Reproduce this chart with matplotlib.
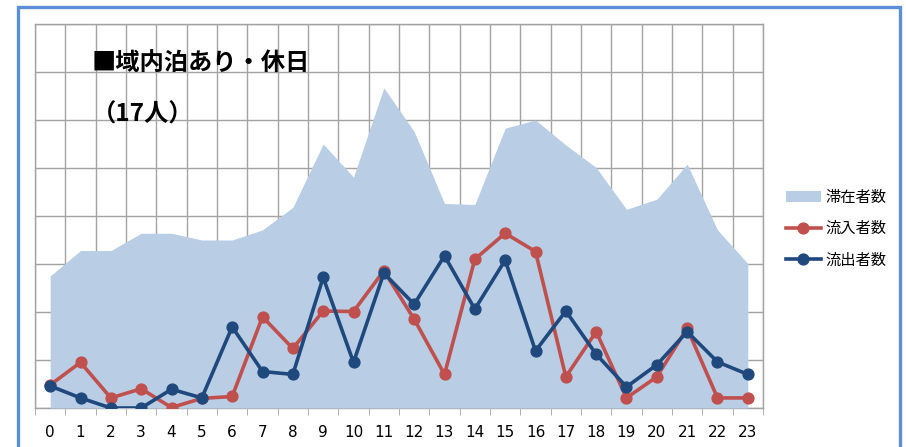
import matplotlib.pyplot as plt
import numpy as np
from matplotlib.patches import Rectangle

hours = list(range(24))
hour_labels = [str(h) for h in hours]

# 滞在者数 (area), 流入者数, 流出者数 (grid units)
stay = [2.75, 3.28, 3.28, 3.64, 3.64, 3.50, 3.50, 3.71, 4.18, 5.50, 4.81, 6.67,
        5.76, 4.26, 4.24, 5.83, 6.00, 5.48, 5.01, 4.14, 4.35, 5.08, 3.71, 3.01]
inflow = [0.48, 0.95, 0.21, 0.40, 0.01, 0.20, 0.24, 1.90, 1.24, 2.02, 2.01, 2.86,
          1.85, 0.70, 3.10, 3.64, 3.26, 0.65, 1.59, 0.21, 0.65, 1.66, 0.21, 0.21]
outflow = [0.46, 0.21, 0.00, 0.00, 0.39, 0.21, 1.69, 0.76, 0.70, 2.72, 0.95, 2.81,
           2.16, 3.17, 2.06, 3.08, 1.19, 2.02, 1.12, 0.44, 0.90, 1.59, 0.96, 0.70]

series_names = ['滞在者数', '流入者数', '流出者数']
title_lines = ['■域内泊あり・休日', '（17人）']

cjk = ['Noto Sans CJK JP', 'DejaVu Sans']
grid_col = '#a3a3a3'

fig = plt.figure(figsize=(9.06, 4.47), dpi=100)
ax = fig.add_axes([35 / 906, 39 / 447, 728 / 906, 384 / 447])

x = np.array(hours)
area = ax.fill_between(x, 0, stay, color='#b9cde5', lw=0, zorder=2, label=series_names[0])
l1, = ax.plot(x, inflow, color='#c0504d', lw=2.6, marker='o', ms=7.8, zorder=3,
              label=series_names[1])
l2, = ax.plot(x, outflow, color='#1f497d', lw=2.6, marker='o', ms=7.8, zorder=4,
              label=series_names[2])

ax.set_xlim(-0.5, 23.5)
ax.set_ylim(0, 8)
ax.set_xticks(x)
ax.set_xticklabels(hour_labels, fontsize=11)
ax.set_xticks(np.arange(-0.5, 24, 1), minor=True)
ax.set_yticks(np.arange(0, 9, 1))
ax.set_yticklabels([])
ax.tick_params(axis='x', which='major', length=0, pad=12)
ax.tick_params(axis='x', which='minor', length=5, color=grid_col)
ax.tick_params(axis='y', length=0)
ax.grid(True, which='minor', axis='x', color=grid_col, lw=1, zorder=1)
ax.grid(True, which='major', axis='y', color=grid_col, lw=1, zorder=1)
ax.set_axisbelow(True)
for s in ax.spines.values():
    s.set_color(grid_col)
    s.set_linewidth(1)
    s.set_zorder(1)

fig.text(92 / 906, 1 - 63 / 447, title_lines[0], family=cjk, fontsize=17.5,
         fontweight='bold', va='center', ha='left')
fig.text(92 / 906, 1 - 115 / 447, title_lines[1], family=cjk, fontsize=17.5,
         fontweight='bold', va='center', ha='left')

leg = fig.legend(handles=[area, l1, l2], loc='upper left',
                 bbox_to_anchor=(778 / 906, 1 - 181 / 447), frameon=False,
                 prop={'family': cjk, 'size': 11}, handlelength=2.3,
                 labelspacing=0.95, handletextpad=0.3, borderpad=0)

fig.patches.append(Rectangle((17.5 / 906, -0.05), 882 / 906, 1.05 - 6.5 / 447,
                             transform=fig.transFigure, fill=False,
                             edgecolor='#5b8fd9', lw=2.4, zorder=10))

fig.savefig('out.png', dpi=100)
